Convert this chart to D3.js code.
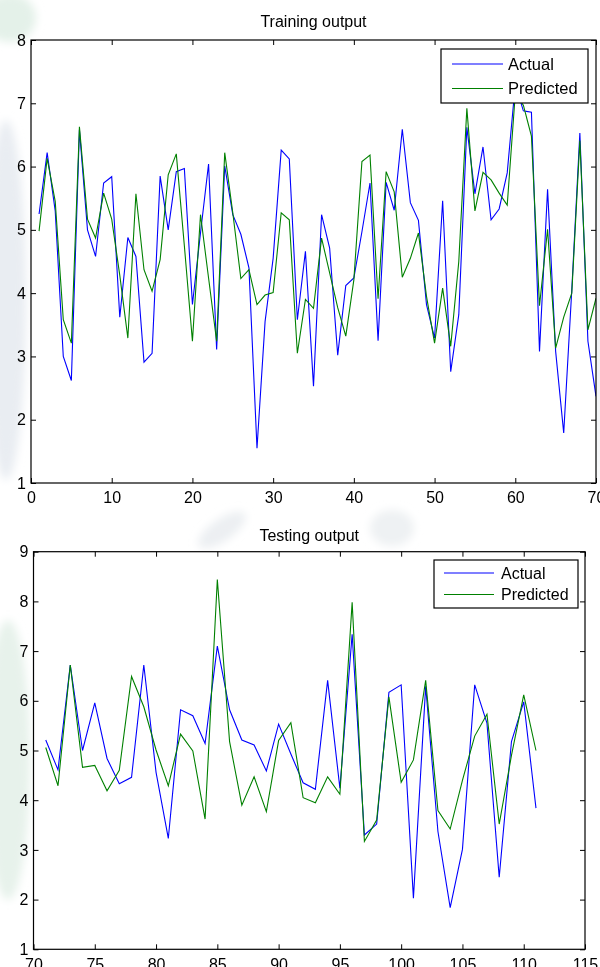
<!DOCTYPE html>
<html>
<head>
<meta charset="utf-8">
<script src="https://cdn.jsdelivr.net/npm/d3@7"></script>
<style>
  html, body { margin: 0; padding: 0; background: #fff; }
  svg { display: block; font-family: "Liberation Sans", Arial, sans-serif; }
</style>
</head>
<body>
<svg id="chart" width="600" height="967"></svg>
<script>
// Training samples 1..70
const trainActual = [
  5.25, 6.22, 5.30, 3.00, 2.62, 6.58, 5.00, 4.58, 5.74, 5.84,
  3.62, 4.88, 4.58, 2.91, 3.05, 5.85, 5.00, 5.92, 5.97, 3.82,
  4.95, 6.04, 3.11, 6.01, 5.24, 4.93, 4.40, 1.55, 3.55, 4.55,
  6.26, 6.12, 3.58, 4.66, 2.53, 5.24, 4.71, 3.02, 4.12, 4.24,
  4.97, 5.74, 3.25, 5.75, 5.31, 6.59, 5.43, 5.15, 3.82, 3.29,
  5.46, 2.76, 3.66, 6.62, 5.57, 6.31, 5.16, 5.33, 5.90, 7.30,
  6.88, 6.86, 3.08, 5.64, 3.08, 1.79, 4.05, 6.53, 3.24, 2.37
];
const trainPredicted = [
  4.98, 6.13, 5.45, 3.58, 3.21, 6.63, 5.17, 4.87, 5.58, 5.17,
  4.28, 3.29, 5.57, 4.37, 4.03, 4.53, 5.87, 6.20, 4.75, 3.24,
  5.24, 4.24, 3.24, 6.22, 5.27, 4.23, 4.37, 3.82, 3.97, 4.01,
  5.27, 5.16, 3.05, 3.90, 3.76, 4.87, 4.32, 3.77, 3.32, 4.21,
  6.08, 6.18, 3.91, 5.92, 5.60, 4.25, 4.55, 4.95, 3.95, 3.21,
  4.08, 3.16, 4.50, 6.92, 5.30, 5.91, 5.79, 5.58, 5.39, 7.15,
  6.97, 6.48, 3.80, 5.01, 3.13, 3.62, 4.00, 6.41, 3.42, 3.92
];
// Testing samples 71..111
const testActual = [
  5.21, 4.61, 6.72, 5.00, 5.96, 4.84, 4.33, 4.46, 6.72, 4.56,
  3.23, 5.82, 5.70, 5.14, 7.10, 5.82, 5.21, 5.11, 4.59, 5.53,
  4.93, 4.35, 4.22, 6.41, 4.24, 7.34, 3.30, 3.52, 6.17, 6.32,
  2.03, 6.29, 3.37, 1.84, 3.01, 6.32, 5.55, 2.45, 5.18, 5.98,
  3.84
];
const testPredicted = [
  5.06, 4.29, 6.72, 4.66, 4.70, 4.19, 4.60, 6.49, 5.88, 5.01,
  4.29, 5.33, 4.99, 3.62, 8.44, 5.18, 3.90, 4.47, 3.77, 5.20,
  5.56, 4.05, 3.95, 4.47, 4.12, 7.98, 3.17, 3.60, 6.08, 4.36,
  4.81, 6.41, 3.79, 3.42, 4.40, 5.29, 5.73, 3.52, 4.90, 6.12,
  5.00
];
const trainFirstSample = 1;
const testFirstSample = 71;

const trainXTicks = [0, 10, 20, 30, 40, 50, 60, 70];
const trainYTicks = [1, 2, 3, 4, 5, 6, 7, 8];
const testXTicks = [70, 75, 80, 85, 90, 95, 100, 105, 110, 115];
const testYTicks = [1, 2, 3, 4, 5, 6, 7, 8, 9];

const seriesNames = ["Actual", "Predicted"];
const seriesColors = ["#0000ff", "#008000"];
const panelTitles = ["Training output", "Testing output"];

const svg = d3.select("#chart");

// Faint background emblem showing through the figure margins
const defs = svg.append("defs");
defs.append("filter").attr("id", "soft").attr("x", "-50%").attr("y", "-50%")
  .attr("width", "200%").attr("height", "200%")
  .append("feGaussianBlur").attr("stdDeviation", 4);
const deco = svg.append("g").attr("class", "backdrop").attr("filter", "url(#soft)");
deco.append("ellipse").attr("cx", 6).attr("cy", 300).attr("rx", 20).attr("ry", 180)
  .attr("fill", "#e9edf2");
deco.append("ellipse").attr("cx", 10).attr("cy", 18).attr("rx", 26).attr("ry", 24)
  .attr("fill", "#e4f1e9");
deco.append("ellipse").attr("cx", 8).attr("cy", 760).attr("rx", 22).attr("ry", 140)
  .attr("fill", "#e7f2eb");
deco.append("ellipse").attr("cx", 222).attr("cy", 530).attr("rx", 28).attr("ry", 11)
  .attr("transform", "rotate(-35 222 530)").attr("fill", "#eceff2");
deco.append("ellipse").attr("cx", 392).attr("cy", 528).attr("rx", 22).attr("ry", 18)
  .attr("fill", "#eef1f3");
deco.append("ellipse").attr("cx", 600).attr("cy", 300).attr("rx", 5).attr("ry", 190)
  .attr("fill", "#eceff2");

function drawPanel(p) {
  const x = d3.scaleLinear().domain(p.xDomain).range([p.left, p.right]);
  const y = d3.scaleLinear().domain(p.yDomain).range([p.bottom, p.top]);
  const g = svg.append("g");
  const w = p.right - p.left, h = p.bottom - p.top;

  g.append("rect").attr("x", p.left).attr("y", p.top).attr("width", w).attr("height", h)
    .attr("fill", "#fff");

  const clipId = "clip-" + p.id;
  defs.append("clipPath").attr("id", clipId).append("rect")
    .attr("x", p.left).attr("y", p.top).attr("width", w).attr("height", h);

  const line = d3.line().x(d => x(d.x)).y(d => y(d.v));
  p.series.forEach((values, k) => {
    g.append("path")
      .datum(values.map((v, i) => ({ x: p.start + i, v })))
      .attr("d", line)
      .attr("fill", "none")
      .attr("stroke", seriesColors[k])
      .attr("stroke-width", 1.1)
      .attr("clip-path", `url(#${clipId})`);
  });

  const tick = 5;
  const styleAxis = sel => {
    sel.attr("font-size", 16).attr("font-family", null);
    sel.select(".domain").remove();
    sel.selectAll("text").attr("fill", "#000");
    sel.selectAll("line").attr("stroke", "#000");
  };
  g.append("g").attr("transform", `translate(0,${p.bottom})`)
    .call(d3.axisBottom(x).tickValues(p.xTicks).tickSize(-tick).tickPadding(9).tickFormat(d3.format("d")))
    .call(styleAxis);
  g.append("g").attr("transform", `translate(0,${p.top})`)
    .call(d3.axisTop(x).tickValues(p.xTicks).tickSize(-tick).tickFormat(""))
    .call(styleAxis);
  g.append("g").attr("transform", `translate(${p.left},0)`)
    .call(d3.axisLeft(y).tickValues(p.yTicks).tickSize(-tick).tickPadding(5).tickFormat(d3.format("d")))
    .call(styleAxis);
  g.append("g").attr("transform", `translate(${p.right},0)`)
    .call(d3.axisRight(y).tickValues(p.yTicks).tickSize(-tick).tickFormat(""))
    .call(styleAxis);

  g.append("rect").attr("x", p.left).attr("y", p.top).attr("width", w).attr("height", h)
    .attr("fill", "none").attr("stroke", "#000").attr("stroke-width", 1.2);

  g.append("text").attr("x", (p.left + p.right) / 2).attr("y", p.titleY)
    .attr("text-anchor", "middle").attr("font-size", 16).attr("fill", "#000")
    .text(p.title);

  // Legend
  const L = p.legend;
  const lg = g.append("g");
  lg.append("rect").attr("x", L.x).attr("y", L.y).attr("width", L.w).attr("height", L.h)
    .attr("fill", "#fff").attr("stroke", "#000").attr("stroke-width", 1.2);
  seriesNames.forEach((name, k) => {
    lg.append("line").attr("x1", L.lineX1).attr("x2", L.lineX2)
      .attr("y1", L.rowY[k]).attr("y2", L.rowY[k])
      .attr("stroke", seriesColors[k]).attr("stroke-width", 1.1);
    lg.append("text").attr("x", L.textX).attr("y", L.rowY[k])
      .attr("dy", "0.36em").attr("font-size", L.fontSize).attr("fill", "#000")
      .text(name);
  });
}

drawPanel({
  id: "train", title: panelTitles[0], titleY: 26.5,
  left: 31, right: 596, top: 40, bottom: 483,
  xDomain: [0, 70], yDomain: [1, 8],
  xTicks: trainXTicks, yTicks: trainYTicks,
  start: trainFirstSample, series: [trainActual, trainPredicted],
  legend: { x: 441, y: 49, w: 147, h: 54, lineX1: 452, lineX2: 503, textX: 508,
            rowY: [64, 88.5], fontSize: 16.5 }
});

drawPanel({
  id: "test", title: panelTitles[1], titleY: 541,
  left: 33.5, right: 585, top: 551.7, bottom: 949.3,
  xDomain: [70, 115], yDomain: [1, 9],
  xTicks: testXTicks, yTicks: testYTicks,
  start: testFirstSample, series: [testActual, testPredicted],
  legend: { x: 434, y: 560, w: 144, h: 48, lineX1: 444, lineX2: 494, textX: 501,
            rowY: [573, 594.5], fontSize: 16 }
});
</script>
</body>
</html>
